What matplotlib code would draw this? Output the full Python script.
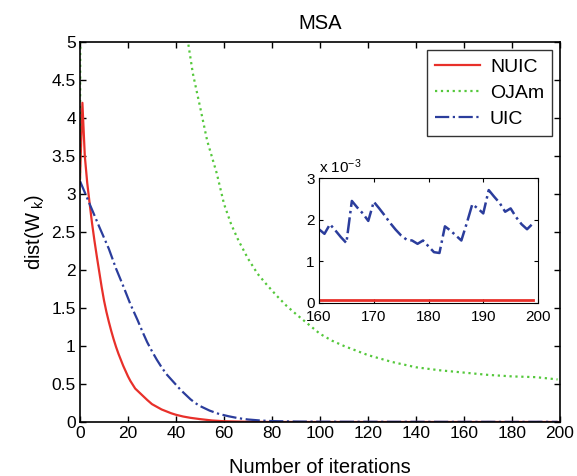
import numpy as np
import matplotlib.pyplot as plt

plt.rcParams['font.family'] = ['Liberation Sans', 'DejaVu Sans']
plt.rcParams['mathtext.fontset'] = 'custom'
plt.rcParams['mathtext.rm'] = 'Liberation Sans'
plt.rcParams['mathtext.it'] = 'Liberation Sans'

# distance to the true weights, sampled at selected iterations
nuic_iter = [0, 1, 2, 3, 4, 5, 6, 7, 8, 9, 10, 11, 12, 13, 14, 15, 16, 17, 18, 19,
             20, 21, 22, 23, 24, 25, 26, 28, 30, 32, 34, 36, 38, 40, 43, 46, 50, 55,
             60, 70, 80, 100, 160, 199]
nuic_dist = [3.2, 4.2, 3.5, 3.15, 2.88, 2.62, 2.39, 2.18, 1.98, 1.78, 1.6, 1.45,
             1.32, 1.2, 1.09, 0.99, 0.9, 0.82, 0.74, 0.67, 0.6, 0.54, 0.49, 0.44,
             0.41, 0.38, 0.35, 0.29, 0.235, 0.2, 0.165, 0.14, 0.115, 0.095, 0.072,
             0.055, 0.038, 0.02, 0.01, 0.003, 0.0005, 0.0001, 0.00007, 0.00007]

ojam_iter = [0, 1, 10, 20, 30, 40, 45, 47, 50, 53, 57, 60, 63, 66, 70, 74, 78, 82,
             86, 90, 95, 100, 105, 110, 115, 120, 130, 140, 150, 160, 170, 180, 190,
             199]
ojam_dist = [3.2, 20.0, 14.0, 9.5, 7.0, 5.6, 5.0, 4.59, 4.15, 3.7, 3.27, 2.87,
             2.6, 2.39, 2.15, 1.95, 1.8, 1.66, 1.53, 1.42, 1.29, 1.16, 1.07, 1.0,
             0.94, 0.88, 0.79, 0.72, 0.68, 0.65, 0.62, 0.6, 0.59, 0.56]

uic_iter = [0, 4, 8, 12, 15, 18, 21, 24, 26, 28, 30, 32, 34, 36, 38, 40, 42, 44,
            46, 48, 50, 54, 58, 62, 66, 70, 75, 80, 90, 100, 120, 140]
uic_dist = [3.17, 2.87, 2.57, 2.28, 2.02, 1.79, 1.55, 1.34, 1.19, 1.05, 0.93,
            0.82, 0.72, 0.63, 0.56, 0.49, 0.42, 0.36, 0.3, 0.25, 0.21, 0.15, 0.105,
            0.075, 0.05, 0.033, 0.02, 0.012, 0.006, 0.004, 0.003, 0.0025]

# last 40 iterations (units of 1e-3)
tail_iter = list(range(160, 200))
uic_tail = [1.77, 1.66, 1.89, 1.74, 1.58, 1.44, 2.45, 2.29, 2.15, 1.97, 2.43, 2.27,
            2.10, 1.92, 1.76, 1.62, 1.52, 1.50, 1.42, 1.50, 1.36, 1.22, 1.20, 1.84,
            1.74, 1.62, 1.50, 1.92, 2.37, 2.27, 2.15, 2.71, 2.55, 2.40, 2.19, 2.27,
            2.06, 1.89, 1.77, 1.90]
nuic_tail = [0.07] * 40

red = '#e8302a'
green = '#55c83c'
blue = '#2b3d9c'

fig = plt.figure(figsize=(5.77, 4.76), dpi=100)
ax = fig.add_axes([80 / 577, 1 - 422 / 476, 480 / 577, 380 / 476])

ax.plot(nuic_iter, nuic_dist, '-', color=red, lw=1.6, label='NUIC')
ax.plot(ojam_iter, ojam_dist, ':', color=green, lw=1.6, label='OJAm')
ax.plot(uic_iter + tail_iter, uic_dist + [v * 1e-3 for v in uic_tail], '-.',
        color=blue, lw=1.6, label='UIC')

ax.set_xlim(0, 200)
ax.set_ylim(0, 5)
ax.set_xticks(np.arange(0, 201, 20))
ax.set_yticks(np.arange(0, 5.01, 0.5))
ax.set_yticklabels(['0', '0.5', '1', '1.5', '2', '2.5', '3', '3.5', '4', '4.5', '5'])
ax.tick_params(direction='in', top=True, right=True, labelsize=12.5, length=4,
               width=1, pad=3)
for s in ax.spines.values():
    s.set_linewidth(1.2)
ax.set_title('MSA', fontsize=14.5, pad=9)
ax.set_xlabel('Number of iterations', fontsize=14.5)
ax.xaxis.set_label_coords(0.5, -0.095)
ax.set_ylabel(r'dist(W$_{\ k}$)', fontsize=14.5, labelpad=4)

leg = ax.legend(loc='upper right', fontsize=14, frameon=True, fancybox=False,
                edgecolor='black', handlelength=2.3, handletextpad=0.5,
                borderaxespad=0.4, labelspacing=0.45, borderpad=0.42)
leg.get_frame().set_linewidth(1.0)

# zoomed view of the tail
ins = fig.add_axes([319 / 577, 1 - 303 / 476, 219 / 577, 125 / 476])
ins.plot(tail_iter, nuic_tail, '-', color=red, lw=2)
ins.plot(tail_iter, uic_tail, '-.', color=blue, lw=1.8)
ins.set_xlim(160, 200)
ins.set_ylim(0, 3)
ins.set_xticks([160, 170, 180, 190, 200])
ins.set_yticks([0, 1, 2, 3])
ins.tick_params(direction='in', top=True, right=True, labelsize=11, length=3)
ins.tick_params(axis='x', pad=5)
ins.tick_params(axis='y', pad=3)
ins.text(0, 1.02, r'x 10$^{-3}$', transform=ins.transAxes, fontsize=11,
         ha='left', va='bottom')

fig.savefig('out.png', dpi=100)
